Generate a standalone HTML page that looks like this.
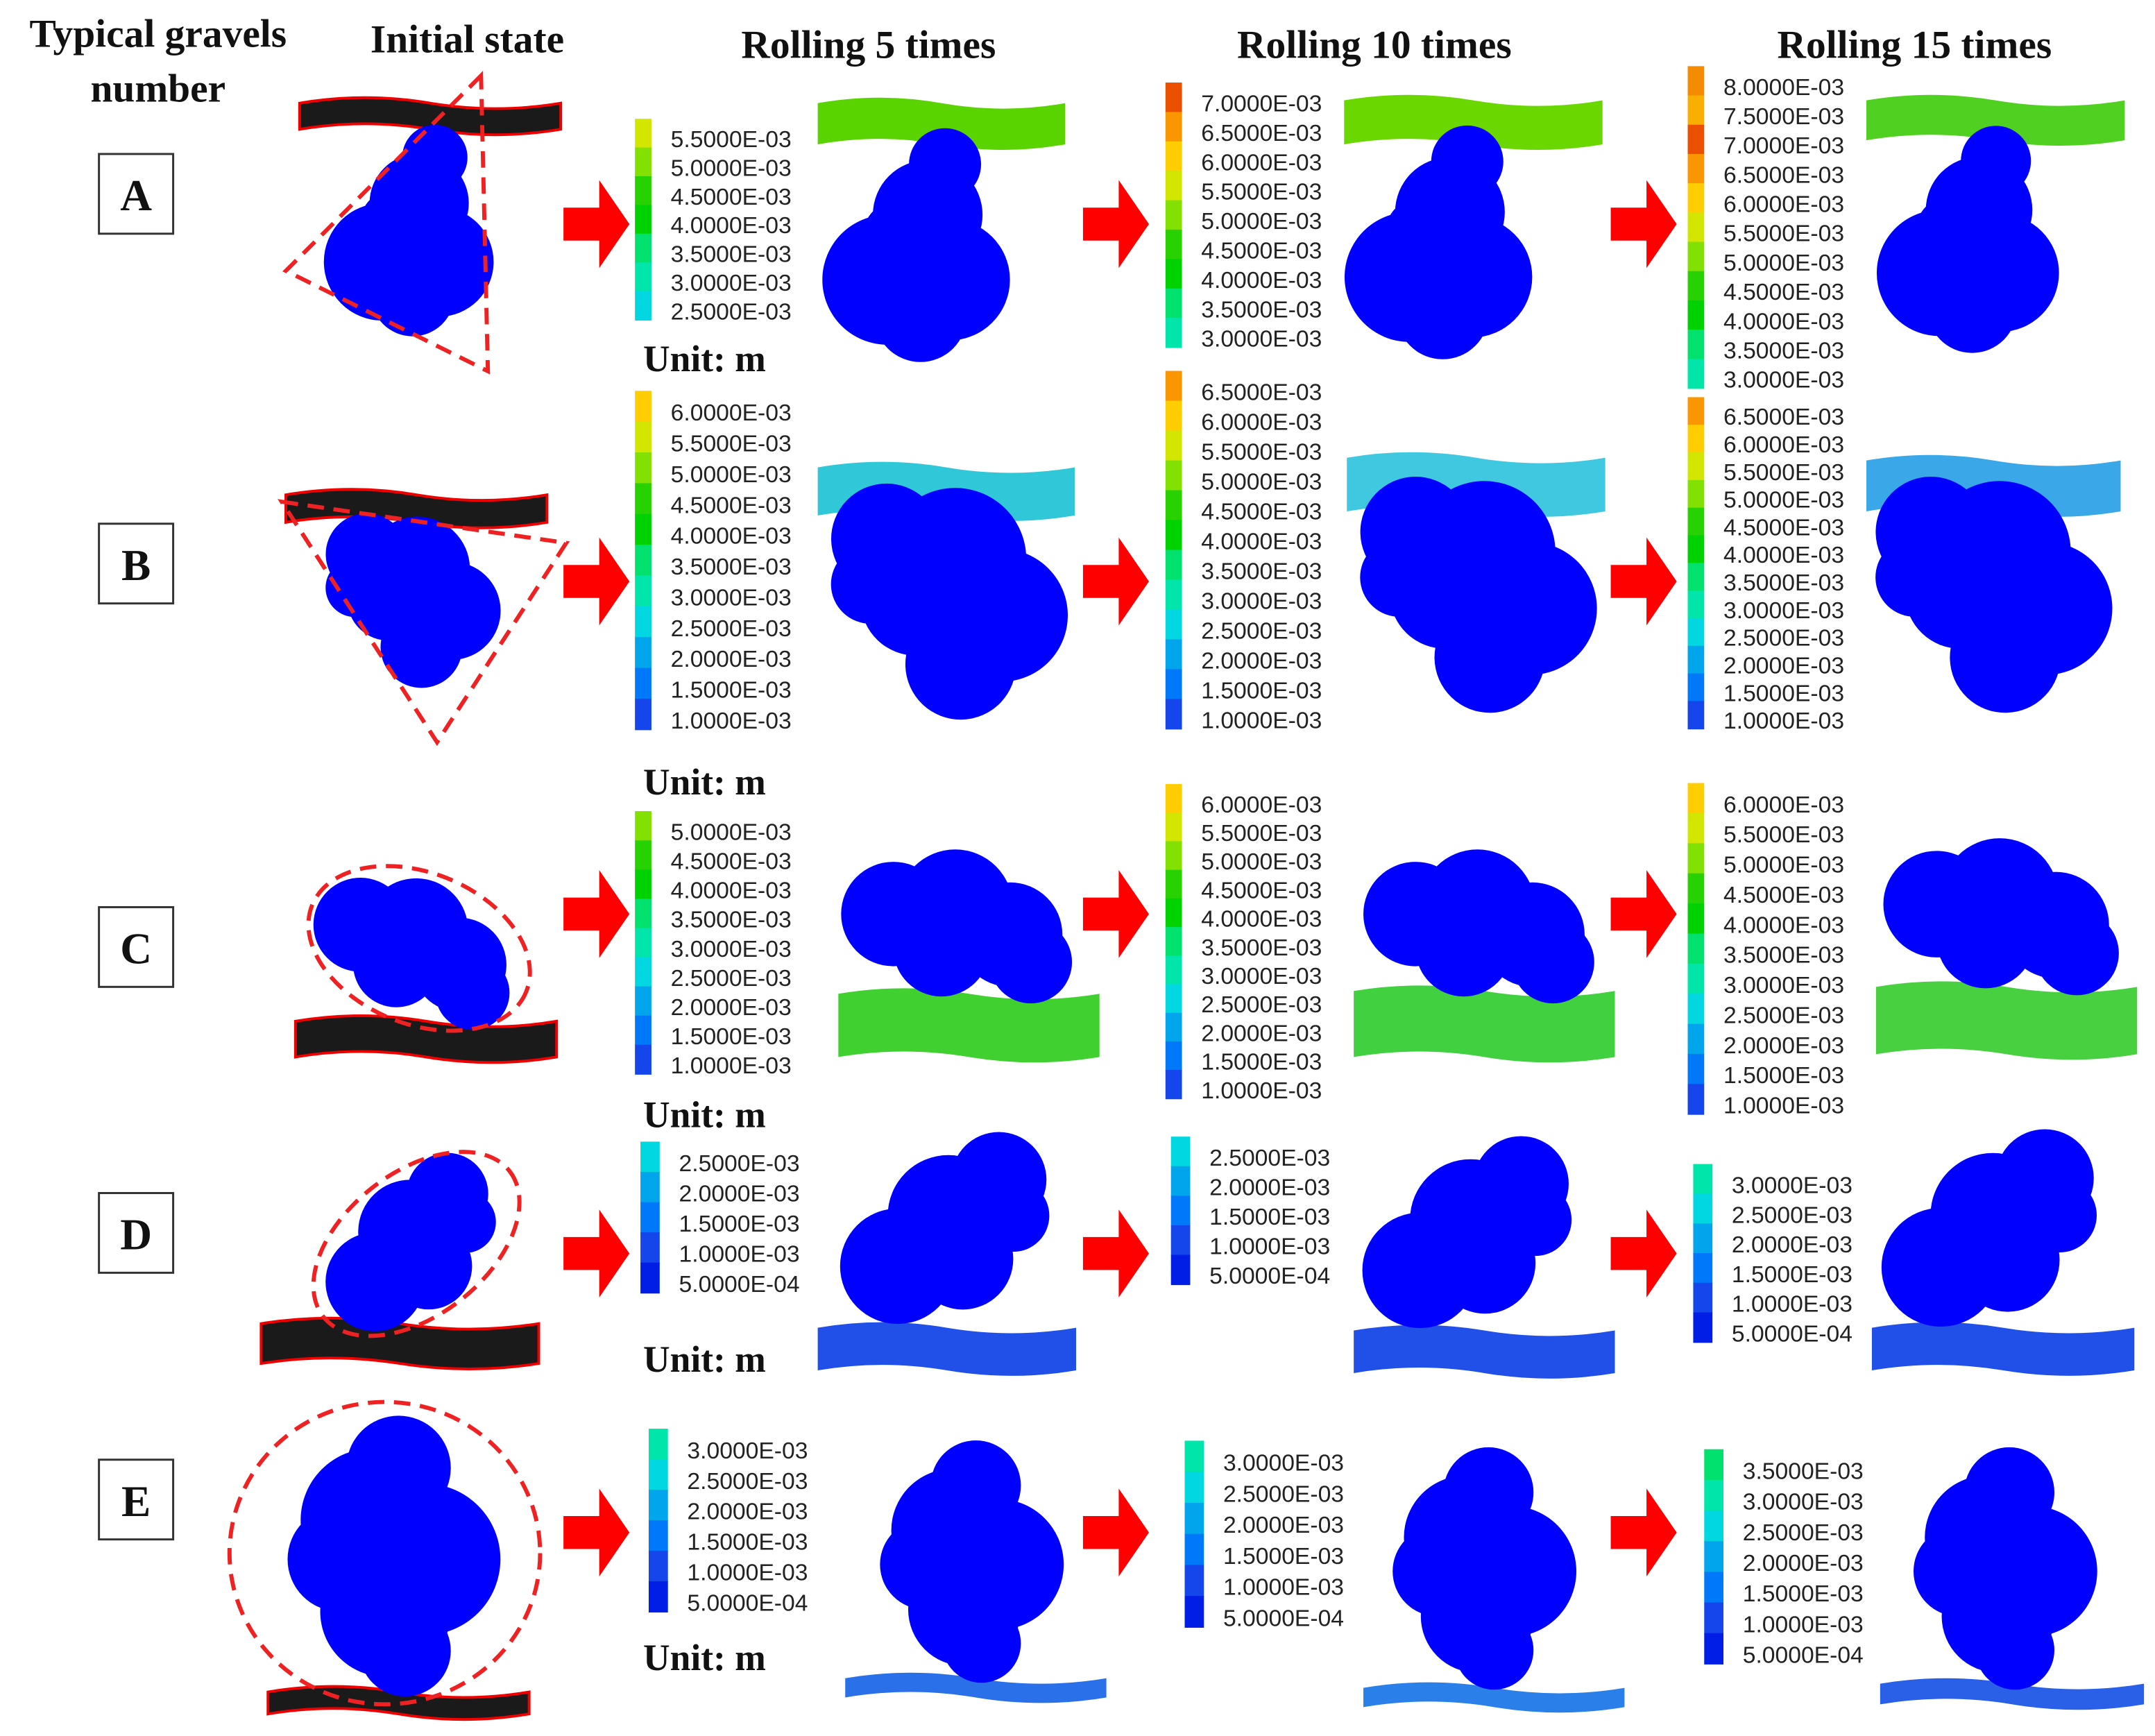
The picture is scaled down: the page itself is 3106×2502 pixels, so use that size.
<!DOCTYPE html>
<html><head><meta charset="utf-8"><style>
html,body{margin:0;padding:0;background:#fff;}
svg{display:block;}
.hd{font-family:"Liberation Serif",serif;font-weight:bold;font-size:29px;fill:#111;text-anchor:middle;}
.lab{font-family:"Liberation Serif",serif;font-weight:bold;font-size:32px;fill:#111;text-anchor:middle;}
.tk{font-family:"Liberation Sans",sans-serif;font-size:17px;fill:#222;}
.unit{font-family:"Liberation Serif",serif;font-weight:bold;font-size:27px;fill:#111;}
</style></head><body>
<svg id="fig" width="3106" height="2502" viewBox="0 0 1568 1263" xmlns="http://www.w3.org/2000/svg">
<defs>
<g id="blobA"><circle cx="12" cy="-50" r="25"/><circle cx="0" cy="-15" r="38"/><circle cx="-28" cy="30" r="45"/><circle cx="15" cy="30" r="42"/><circle cx="-5" cy="55" r="32"/><circle cx="-20" cy="0" r="25"/></g>
<g id="blobB"><circle cx="-45" cy="-30" r="35"/><circle cx="0" cy="-25" r="45"/><circle cx="35" cy="5" r="42"/><circle cx="15" cy="40" r="35"/><circle cx="-20" cy="5" r="35"/><circle cx="-50" cy="0" r="25"/></g>
<g id="blobC"><circle cx="-45" cy="-10" r="38"/><circle cx="0" cy="-15" r="42"/><circle cx="40" cy="5" r="38"/><circle cx="55" cy="25" r="30"/><circle cx="-10" cy="15" r="35"/></g>
<g id="blobD"><circle cx="35" cy="-35" r="33"/><circle cx="0" cy="-10" r="42"/><circle cx="-35" cy="25" r="40"/><circle cx="10" cy="20" r="35"/><circle cx="45" cy="-10" r="25"/></g>
<g id="blobE"><circle cx="0" cy="-60" r="40"/><circle cx="-20" cy="-20" r="55"/><circle cx="20" cy="10" r="58"/><circle cx="-10" cy="50" r="50"/><circle cx="5" cy="80" r="35"/><circle cx="-45" cy="10" r="40"/></g>
</defs>
<g>
<text class="hd" x="115" y="34">Typical gravels</text>
<text class="hd" x="115" y="74">number</text>
<text class="hd" x="340" y="38">Initial state</text>
<text class="hd" x="632" y="42">Rolling 5 times</text>
<text class="hd" x="1000" y="42">Rolling 10 times</text>
<text class="hd" x="1393" y="42">Rolling 15 times</text>
</g>
<g id="dyn"></g>
</svg>
<script>
const NS="http://www.w3.org/2000/svg";
const root=document.getElementById('dyn');
function mk(tag,attrs,parent){const e=document.createElementNS(NS,tag);for(const k in attrs)e.setAttribute(k,attrs[k]);(parent||root).appendChild(e);return e;}

const rowLetters=['A','B','C','D','E'];
const rowBoxY=[112,381,660,868,1062];
const rowArrowY=[163,423,665,912,1115];

const cbA5=[5.5,5.0,4.5,4.0,3.5,3.0,2.5];
const cbA10=[7.0,6.5,6.0,5.5,5.0,4.5,4.0,3.5,3.0];
const cbA15=[8.0,7.5,7.0,6.5,6.0,5.5,5.0,4.5,4.0,3.5,3.0];
const cbB5=[6.0,5.5,5.0,4.5,4.0,3.5,3.0,2.5,2.0,1.5,1.0];
const cbB10=[6.5,6.0,5.5,5.0,4.5,4.0,3.5,3.0,2.5,2.0,1.5,1.0];
const cbB15=[6.5,6.0,5.5,5.0,4.5,4.0,3.5,3.0,2.5,2.0,1.5,1.0];
const cbC5=[5.0,4.5,4.0,3.5,3.0,2.5,2.0,1.5,1.0];
const cbC10=[6.0,5.5,5.0,4.5,4.0,3.5,3.0,2.5,2.0,1.5,1.0];
const cbC15=[6.0,5.5,5.0,4.5,4.0,3.5,3.0,2.5,2.0,1.5,1.0];
const cbD5=[2.5,2.0,1.5,1.0,0.5];
const cbD10=[2.5,2.0,1.5,1.0,0.5];
const cbD15=[3.0,2.5,2.0,1.5,1.0,0.5];
const cbE5=[3.0,2.5,2.0,1.5,1.0,0.5];
const cbE10=[3.0,2.5,2.0,1.5,1.0,0.5];
const cbE15=[3.5,3.0,2.5,2.0,1.5,1.0,0.5];

function fmt(v){return v>=1?v.toFixed(4)+'E-03':(v*10).toFixed(4)+'E-04';}
const stops=[[0.5,[0,30,230]],[1.0,[20,70,235]],[1.5,[0,120,250]],[2.0,[0,165,235]],[2.5,[0,215,225]],[3.0,[0,230,170]],[3.5,[0,225,110]],[4.0,[0,210,0]],[4.5,[40,210,0]],[5.0,[130,225,0]],[5.5,[210,230,0]],[6.0,[255,205,0]],[6.5,[250,150,0]],[7.0,[235,80,0]],[7.5,[250,175,0]],[8.0,[245,140,0]]];
function col(v){let best=stops[0];for(const s of stops)if(Math.abs(s[0]-v)<Math.abs(best[0]-v))best=s;return 'rgb('+best[1].join(',')+')';}

function colorbar(name,vals,x,firstY,step,w){
  const g=mk('g',{});
  
  
  const top=firstY-step*0.7;
  for(let i=0;i<vals.length;i++){
    const r=mk('rect',{x:x,y:top+i*step,width:w,height:step+0.5,fill:col(vals[i])},g);
    
    
    const t=mk('text',{class:'tk',x:x+w+14,y:firstY+i*step+6},g);
    
    
    t.textContent=fmt(vals[i]);
  }
}
const bars=[
 ['colorbar-a-5',cbA5,462,101,20.9,12],['colorbar-a-10',cbA10,848,75,21.4,12],['colorbar-a-15',cbA15,1228,63,21.3,12],
 ['colorbar-b-5',cbB5,462,300,22.4,12],['colorbar-b-10',cbB10,848,285,21.7,12],['colorbar-b-15',cbB15,1228,303,20.1,12],
 ['colorbar-c-5',cbC5,462,605,21.25,12],['colorbar-c-10',cbC10,848,585,20.8,12],['colorbar-c-15',cbC15,1228,585,21.9,12],
 ['colorbar-d-5',cbD5,466,846,22,14],['colorbar-d-10',cbD10,852,842,21.5,14],['colorbar-d-15',cbD15,1232,862,21.6,14],
 ['colorbar-e-5',cbE5,472,1055,22.2,14],['colorbar-e-10',cbE10,862,1064,22.6,14],['colorbar-e-15',cbE15,1240,1070,22.3,14]];
bars.forEach(b=>colorbar(...b));

[270,578,820,998,1215].forEach(y=>{const t=mk('text',{class:'unit',x:468,y:y});
t.textContent='Unit: m';});

rowLetters.forEach((L,i)=>{const g=mk('g',{});
mk('rect',{x:72,y:rowBoxY[i],width:54,height:58,fill:'#fff',stroke:'#333','stroke-width':1.5},g);
const t=mk('text',{class:'lab',x:99,y:rowBoxY[i]+41},g);t.textContent=L;});

function arrow(x,y){const p=mk('path',{d:`M${x} ${y-12}h26v-20l22 32l-22 32v-20h-26z`,fill:'#f00'});
}
rowArrowY.forEach(y=>{arrow(410,y);arrow(788,y);arrow(1172,y);});

function strip(name,x1,y1,x2,y2,fill,stroke){const w=x2-x1;
const d=`M${x1} ${y1+3} q${w/4} -8 ${w/2} 0 t${w/2} 0 L${x2} ${y2-3} q${-w/4} 8 ${-w/2} 0 t${-w/2} 0 z`;
const p=mk('path',{d:d,fill:fill,stroke:stroke||'none','stroke-width':2});
}
const dk='#1a1a1a',rd='#e00';
strip('gravel-layer-a-initial',218,72,408,97,dk,rd);
strip('layer-a-5',595,72,775,108,'#5ad400');strip('layer-a-10',978,70,1166,108,'#6ad800');strip('layer-a-15',1358,70,1546,105,'#50d020');
strip('gravel-layer-b-initial',208,357,398,383,dk,rd);
strip('layer-b-5',595,337,782,378,'#30c8d8');strip('layer-b-10',980,330,1168,375,'#40c8e0');strip('layer-b-15',1358,332,1543,375,'#3aa8e8');
strip('gravel-layer-c-initial',215,740,405,772,dk,rd);
strip('layer-c-5',610,720,800,772,'#40d030');strip('layer-c-10',985,718,1175,772,'#40d040');strip('layer-c-15',1365,715,1555,770,'#48d040');
strip('gravel-layer-d-initial',190,960,392,995,dk,rd);
strip('layer-d-5',595,963,783,1000,'#2050e8');strip('layer-d-10',985,965,1175,1002,'#2050e8');strip('layer-d-15',1362,963,1553,1000,'#2050e8');
strip('gravel-layer-e-initial',195,1228,385,1250,dk,rd);
strip('layer-e-5',615,1218,805,1238,'#2a70e8');strip('layer-e-10',992,1225,1182,1245,'#2a80e8');strip('layer-e-15',1368,1222,1560,1243,'#2a60e8');

function blob(name,id,x,y,s,rot){const u=mk('use',{href:'#'+id,transform:`translate(${x} ${y}) rotate(${rot||0}) scale(${s})`,fill:'#0000ff'});
}
blob('gravel-a-initial','blobA',305,162,0.95);blob('gravel-a-5','blobA',675,172,1.05);blob('gravel-a-10','blobA',1055,170,1.05);blob('gravel-a-15','blobA',1440,168,1.02);
blob('gravel-b-initial','blobB',300,435,0.85,10);blob('gravel-b-5','blobB',690,435,1.15,10);blob('gravel-b-10','blobB',1075,430,1.15,10);blob('gravel-b-15','blobB',1450,430,1.15,10);
blob('gravel-c-initial','blobC',300,690,0.9,12);blob('gravel-c-5','blobC',695,675,1.0);blob('gravel-c-10','blobC',1075,675,1.0);blob('gravel-c-15','blobC',1455,668,1.02);
blob('gravel-d-initial','blobD',300,905,0.9,-10);blob('gravel-d-5','blobD',690,895,1.05);blob('gravel-d-10','blobD',1070,898,1.05);blob('gravel-d-15','blobD',1450,895,1.08);
blob('gravel-e-initial','blobE',290,1125,0.95);blob('gravel-e-5','blobE',710,1130,0.82);blob('gravel-e-10','blobE',1083,1135,0.82);blob('gravel-e-15','blobE',1462,1135,0.82);

const ds={fill:'none',stroke:'#e22','stroke-width':3,'stroke-dasharray':'12 7'};
function dash(tag,attrs,name){const e=mk(tag,Object.assign({},ds,attrs));}
dash('polygon',{points:'350,55 208,197 355,270'},'outline-a-triangle');
dash('polygon',{points:'205,365 412,395 318,540'},'outline-b-triangle');
dash('ellipse',{cx:305,cy:690,rx:84,ry:55,transform:'rotate(22 305 690)'},'outline-c-ellipse');
dash('ellipse',{cx:303,cy:905,rx:86,ry:52,transform:'rotate(-38 303 905)'},'outline-d-ellipse');
dash('ellipse',{cx:280,cy:1130,rx:113,ry:110},'outline-e-circle');
</script>
</body></html>
